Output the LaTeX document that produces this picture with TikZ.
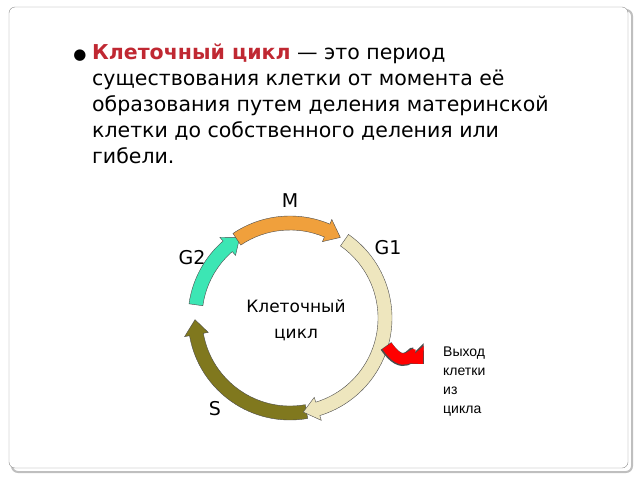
\documentclass[tikz,border=0pt]{standalone}
\usepackage{fontspec}
\setmainfont{DejaVu Sans}
\newfontfamily\arialfont{Liberation Sans}
\usetikzlibrary{arrows.meta}
\definecolor{termred}{RGB}{192,40,50}
\definecolor{phaseM}{RGB}{240,160,60}
\definecolor{phaseGone}{RGB}{238,230,190}
\definecolor{phaseS}{RGB}{128,120,30}
\definecolor{phaseGtwo}{RGB}{60,230,180}
% ring arrow: start angle, end angle (clockwise), colour
\newcommand{\ringarrow}[3]{%
  \filldraw[fill=#3,draw=black!70,thin,shift={(290pt,-318pt)}]
    (#1:102pt) arc[start angle=#1,end angle=#2+9,radius=102pt]
    -- (#2+9:107pt) -- (#2:95pt) -- (#2+9:83pt) -- (#2+9:88pt)
    arc[start angle=#2+9,end angle=#1,radius=88pt] -- cycle;}
\begin{document}
\begin{tikzpicture}[x=1pt,y=1pt,
  label/.style={font=\fontsize{19}{22}\selectfont,inner sep=0pt}]
  \useasboundingbox (0,0) rectangle (640,-480);
  % slide frame
  \draw[black!25,line width=2pt,rounded corners=6pt] (12,-10) rectangle (632,-472);
  \draw[black!45,thin,rounded corners=6pt,fill=white] (9,-7) rectangle (628,-468);
  % bullet text
  \node (dot) at (80,-56) {\fontsize{15}{15}\selectfont ●};
  \node[anchor=north west,align=left,inner sep=0pt,
        font=\fontsize{20.5}{26}\selectfont] (def) at (92,-44)
    {{\color{termred}\bfseries Клеточный цикл} — это период\\
     существования клетки от момента её\\
     образования путем деления материнской\\
     клетки до собственного деления или\\
     гибели.};
  % cycle
  \ringarrow{280}{181}{phaseS}
  \ringarrow{55}{-82}{phaseGone}
  \ringarrow{172}{122}{phaseGtwo}
  \ringarrow{124}{58}{phaseM}
  % exit arrow
  \draw[black!70,line width=13pt,-{Triangle[length=15pt,width=28pt]}]
    (386,-346) .. controls (404,-372) and (412,-352) .. (424,-364);
  \draw[red,line width=11pt,-{Triangle[length=13pt,width=25pt]}]
    (387,-346) .. controls (404,-371) and (412,-352) .. (423,-364);
  % labels
  \node[label] (m) at (290,-201) {M};
  \node[label] (gone) at (388,-248) {G1};
  \node[label] (gtwo) at (192,-258) {G2};
  \node[label] (s) at (215,-409) {S};
  \node[align=center,font=\fontsize{17}{26}\selectfont] (cycle) at (296,-320)
    {Клеточный\\цикл};
  \node[anchor=north west,align=left,inner sep=0pt,
        font=\arialfont\fontsize{14}{19}\selectfont] (exit) at (443,-347)
    {Выход\\клетки\\из\\цикла};
\end{tikzpicture}
\end{document}
